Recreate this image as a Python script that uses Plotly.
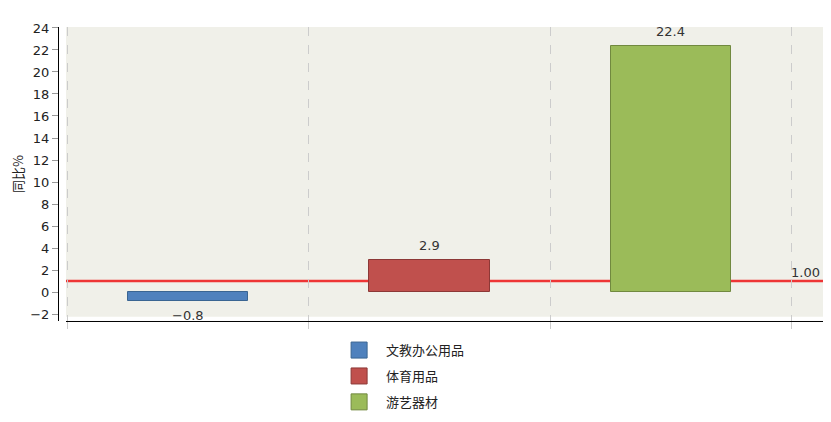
import plotly.graph_objects as go

categories = ['文教办公用品', '体育用品', '游艺器材']
values = [-0.8, 2.9, 22.4]
colors = ['#4F81BD', '#C0504D', '#9BBB59']
borders = ['#3A6592', '#8C3836', '#71893F']
ref_value = 1.0
y_ticks = list(range(-2, 25, 2))

font_main = 'DejaVu Sans, Noto Sans CJK SC, sans-serif'
x_lo, x_hi = -0.534, 2.634
bg_left = -0.505

fig = go.Figure()

for i, (name, val) in enumerate(zip(categories, values)):
    fig.add_trace(go.Bar(
        x=[i], y=[val], name=name,
        width=0.5,
        marker=dict(color=colors[i], line=dict(color=borders[i], width=1)),
        showlegend=False
    ))
    # value label, a little further away from the bar than plotly's default
    fig.add_annotation(x=i, y=val, text=f'{val:.1f}'.replace('-', '\u2212'),
                       showarrow=False,
                       yanchor='bottom' if val >= 0 else 'top',
                       yshift=5 if val >= 0 else -5,
                       font=dict(size=13, color='#333333', family=font_main))
    # legend entry with a bigger square
    fig.add_trace(go.Scatter(
        x=[None], y=[None], mode='markers', name=name, legendgroup=name,
        marker=dict(symbol='square', size=16, color=colors[i],
                    line=dict(color=borders[i], width=1))
    ))

# plot background only above -2 (white strip below, like the original)
fig.add_shape(type='rect', xref='x', yref='y', x0=bg_left, x1=x_hi, y0=-2.25, y1=24.2,
              fillcolor='#F0F0E9', line_width=0, layer='below')
# x axis line starts where the background starts
fig.add_shape(type='line', xref='x', yref='paper', x0=bg_left, x1=x_hi, y0=-0.0017, y1=-0.0017,
              line=dict(color='#000000', width=1))

# reference line sits behind the bars
fig.add_shape(type='line', xref='x', yref='y', x0=bg_left, x1=x_hi,
              y0=ref_value, y1=ref_value, line=dict(color='#EE3535', width=2.5),
              layer='below')
fig.add_annotation(x=0.997, xref='paper', y=ref_value, yref='y',
                   text=f'{ref_value:.2f}', showarrow=False,
                   xanchor='right', yanchor='bottom', yshift=-1,
                   font=dict(size=13, color='#333333', family=font_main))

# page body adds an 8px margin, so the figure is sized to fit inside the window
fig.update_layout(
    width=823, height=414,
    margin=dict(l=51, r=7, t=19, b=101, autoexpand=False),
    plot_bgcolor='white', paper_bgcolor='white',
    font=dict(family=font_main, color='#222222'),
    bargap=0,
    legend=dict(x=0.357, y=-0.048, xanchor='left', yanchor='top',
                font=dict(size=13, color='#222222', family='Noto Sans CJK SC'),
                bgcolor='rgba(0,0,0,0)', tracegroupgap=6, itemwidth=44)
)

fig.update_xaxes(
    range=[x_lo, x_hi], automargin=False,
    tickvals=[-0.5, 0.5, 1.5, 2.5], showticklabels=False,
    showgrid=True, gridcolor='#CCCCCC', griddash='dash', gridwidth=1,
    ticks='outside', ticklen=7, tickcolor='#CCCCCC',
    showline=False, zeroline=False
)

fig.update_yaxes(
    range=[-2.636, 24.09], automargin=False,
    tickvals=y_ticks, ticks='outside', ticklen=6, tickcolor='#999999',
    tickfont=dict(size=13, color='#222222', family=font_main),
    showline=True, linecolor='#000000', linewidth=1,
    showgrid=False, zeroline=False,
    title=dict(text='同比%', font=dict(size=13, color='#222222', family='Noto Sans CJK SC'),
               standoff=4)
)

fig.write_html('out.html')
